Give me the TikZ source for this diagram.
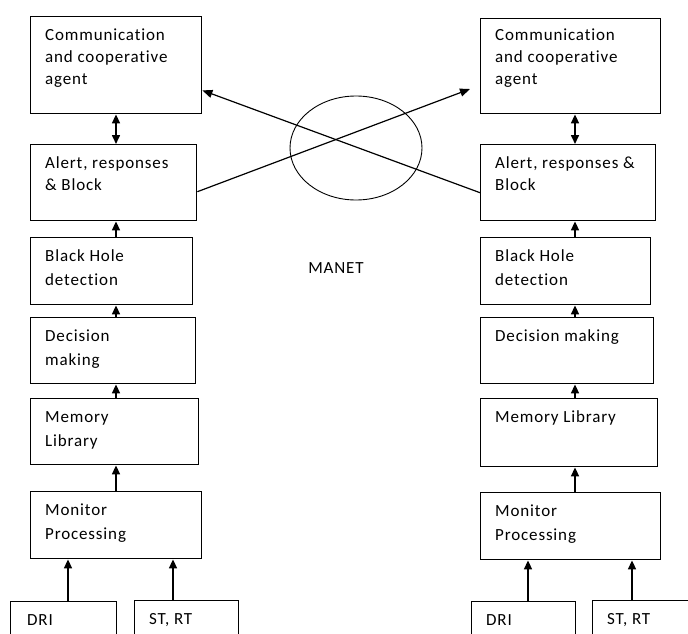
\documentclass[tikz,border=0pt]{standalone}
\usepackage{fontspec}
\setmainfont{Carlito}[LetterSpace=5,Ligatures=NoCommon]
\usetikzlibrary{arrows.meta}

\tikzset{
  blk/.style={draw, line width=1.4pt, anchor=north west, inner sep=0pt},
  blktxt/.style={anchor=north west, inner sep=0pt, align=left, xshift=15pt,
    font=\fontsize{17}{24}\selectfont, yshift=-7.7pt},
  toptxt/.style={anchor=north west, inner sep=0pt, align=left, xshift=15pt,
    font=\fontsize{17}{22}\selectfont, yshift=-9.1pt},
  arr/.style={line width=1.6pt, -{Triangle[length=9pt,width=8pt]}},
  darr/.style={line width=1.6pt, {Triangle[length=9pt,width=8pt]}-{Triangle[length=9pt,width=8pt]}},
  xarr/.style={line width=1.2pt, -{Triangle[length=10pt,width=8pt]}},
}

\begin{document}
\begin{tikzpicture}[x=1pt,y=-1pt]

			\useasboundingbox (0,0) rectangle (688,634);
			\clip (0,0) rectangle (688,634);

			% Left column
			\coordinate (lx) at (116,0);
			\coordinate (la) at (68,0);
			\coordinate (lb) at (173,0);
			\node[blk, minimum width=171pt, minimum height=97pt, label={[toptxt]north west:\strut Communication\\and cooperative\\agent}] (lcomm) at (30,16) {};
			\node[blk, minimum width=166pt, minimum height=76pt, label={[toptxt]north west:\strut Alert, responses\\\& Block}] (lalert) at (30,144) {};
			\node[blk, minimum width=162pt, minimum height=67pt, label={[blktxt]north west:\strut Black Hole\\detection}] (lbh) at (30,237) {};
			\node[blk, minimum width=165pt, minimum height=66pt, label={[blktxt]north west:\strut Decision\\making}] (ldec) at (30,317) {};
			\node[blk, minimum width=168pt, minimum height=66pt, label={[blktxt]north west:\strut Memory\\Library}] (lmem) at (30,398) {};
			\node[blk, minimum width=171pt, minimum height=67pt, label={[blktxt]north west:\strut Monitor\\Processing}] (lmon) at (30,491) {};
			\node[blk, minimum width=106pt, minimum height=60pt, label={[blktxt, xshift=2pt]north west:\strut DRI}] (ldri) at (10,601) {};
			\node[blk, minimum width=104pt, minimum height=60pt, label={[blktxt]north west:\strut ST, RT}] (lst) at (134,600) {};

			\draw[darr] (lcomm.south -| lx) -- (lalert.north -| lx);
			\draw[arr] (lbh.north -| lx) -- (lalert.south -| lx);
			\draw[arr] (ldec.north -| lx) -- (lbh.south -| lx);
			\draw[arr] (lmem.north -| lx) -- (ldec.south -| lx);
			\draw[arr] (lmon.north -| lx) -- (lmem.south -| lx);
			\draw[arr] (ldri.north -| la) -- (lmon.south -| la);
			\draw[arr] (lst.north -| lb) -- (lmon.south -| lb);

			% Right column
			\coordinate (rx) at (575,0);
			\coordinate (ra) at (528,0);
			\coordinate (rb) at (632,0);
			\node[blk, minimum width=180pt, minimum height=95pt, label={[toptxt, yshift=2pt]north west:\strut Communication\\and cooperative\\agent}] (rcomm) at (480,18) {};
			\node[blk, minimum width=175pt, minimum height=76pt, label={[toptxt]north west:\strut Alert, responses \&\\Block}] (ralert) at (480,144) {};
			\node[blk, minimum width=170pt, minimum height=67pt, label={[blktxt]north west:\strut Black Hole\\detection}] (rbh) at (480,237) {};
			\node[blk, minimum width=173pt, minimum height=66pt, label={[blktxt]north west:\strut Decision making}] (rdec) at (480,317) {};
			\node[blk, minimum width=177pt, minimum height=68pt, label={[blktxt]north west:\strut Memory Library}] (rmem) at (480,398) {};
			\node[blk, minimum width=180pt, minimum height=67pt, label={[blktxt]north west:\strut Monitor\\Processing}] (rmon) at (480,492) {};
			\node[blk, minimum width=104pt, minimum height=60pt, label={[blktxt]north west:\strut DRI}] (rdri) at (471,601) {};
			\node[blk, minimum width=120pt, minimum height=60pt, label={[blktxt]north west:\strut ST, RT}] (rst) at (592,600) {};

			\draw[darr] (rcomm.south -| rx) -- (ralert.north -| rx);
			\draw[arr] (rbh.north -| rx) -- (ralert.south -| rx);
			\draw[arr] (rdec.north -| rx) -- (rbh.south -| rx);
			\draw[arr] (rmem.north -| rx) -- (rdec.south -| rx);
			\draw[arr] (rmon.north -| rx) -- (rmem.south -| rx);
			\draw[arr] (rdri.north -| ra) -- (rmon.south -| ra);
			\draw[arr] (rst.north -| rb) -- (rmon.south -| rb);

			% MANET
			\draw[line width=0.9pt] (356,148) ellipse [x radius=66, y radius=52];
			\node[font=\fontsize{17}{22}\selectfont] (manet) at (336,268) {MANET};

			% Crossing links
			\coordinate (rtip) at (470,89);
			\draw[xarr] ([yshift=-9pt]lalert.east) -- (rtip);
			\draw[xarr] ([yshift=-10pt]ralert.west) -- ([yshift=24pt]lcomm.south east);

		\end{tikzpicture}
\end{document}
